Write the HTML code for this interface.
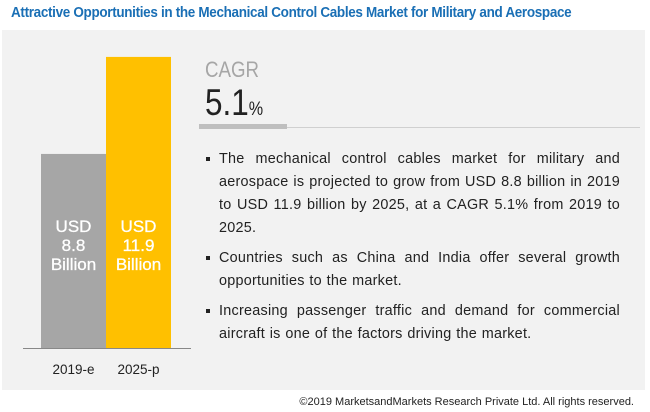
<!DOCTYPE html>
<html><head><meta charset="utf-8"><style>
body{margin:0;width:650px;height:412px;background:#fff;font-family:"Liberation Sans",sans-serif;position:relative;overflow:hidden}
#title{position:absolute;left:11px;top:5px;font-size:14.5px;font-weight:bold;color:#1a6fb5;letter-spacing:-0.35px;white-space:nowrap;transform:scaleX(0.93);transform-origin:left}
#panel{position:absolute;left:2px;top:30px;width:643px;height:360px;background:#f2f2f2}
#cagr{position:absolute;left:205px;top:57px;font-size:22px;color:#a6a6a6;transform:scaleX(0.85);transform-origin:left}
#val{position:absolute;left:205px;top:82px;font-size:37px;color:#222;transform:scaleX(0.85);transform-origin:left}
#val span{font-size:19px}
#ul1{position:absolute;left:199px;top:124px;width:88px;height:5px;background:#bfbfbf}
#ul2{position:absolute;left:287px;top:127px;width:353px;height:1px;background:#d0d0d0}
#bullets{position:absolute;left:205px;top:148px;width:415px;font-size:14.4px;letter-spacing:0.25px;word-spacing:0.5px;color:#222;line-height:23px;text-align:justify}
.b{position:relative;padding-left:14px;margin-bottom:7px}
.b:before{content:"";position:absolute;left:1px;top:9px;width:4px;height:4px;background:#222}
#foot{position:absolute;right:16px;top:396px;font-size:11px;color:#222}
</style></head><body>
<div id="title">Attractive Opportunities in the Mechanical Control Cables Market for Military and Aerospace</div>
<div id="panel"></div>
<svg id="chart" width="650" height="412" style="position:absolute;left:0;top:0"></svg>
<div id="cagr">CAGR</div>
<div id="val">5.1<span>%</span></div>
<div id="ul1"></div>
<div id="ul2"></div>
<div id="bullets">
<div class="b">The mechanical control cables market for military and aerospace is projected to grow from USD 8.8 billion in 2019 to USD 11.9 billion by 2025, at a CAGR 5.1% from 2019 to 2025.</div>
<div class="b">Countries such as China and India offer several growth opportunities to the market.</div>
<div class="b">Increasing passenger traffic and demand for commercial aircraft is one of the factors driving the market.</div>
</div>
<div id="foot">©2019 MarketsandMarkets Research Private Ltd. All rights reserved.</div>
<script>
const categories=["2019-e","2025-p"];
const values=[8.8,11.9];
const valueLabels=["8.8","11.9"];
const colors=["#a6a6a6","#ffc000"];
const NS="http://www.w3.org/2000/svg";
const svg=document.getElementById('chart');
const base=348, x0=41, bw=65;
function y(v){return base-31.3*(v-2.6);}
function mk(t,a){const e=document.createElementNS(NS,t);for(const k in a)e.setAttribute(k,a[k]);svg.appendChild(e);return e;}
values.forEach((v,i)=>{
 const x=x0+i*bw;
 const r=mk('rect',{x:x,y:y(v),width:bw,height:base-y(v),fill:colors[i]});
 
 
 ["USD",valueLabels[i],"Billion"].forEach((s,j)=>{
  const t=mk('text',{x:x+bw/2,y:232+j*19,'text-anchor':'middle','font-size':'17','font-family':'Liberation Sans, sans-serif',fill:'#fff',stroke:'#fff','stroke-width':'0.3'});
  t.textContent=s;
  
  
 });
 const c=mk('text',{x:x+bw/2,y:374,'text-anchor':'middle','font-size':'13.5','font-family':'Liberation Sans, sans-serif',fill:'#222'});
 c.textContent=categories[i];
 
 
});
const l=mk('line',{x1:23,x2:191,y1:base+0.5,y2:base+0.5,stroke:'#888','stroke-width':1});


</script>
</body></html>
